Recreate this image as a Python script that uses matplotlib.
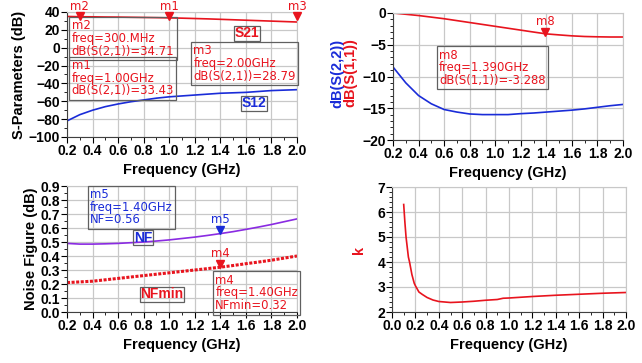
import matplotlib

matplotlib.use("Agg")

import matplotlib.pyplot as plt
import numpy as np
from matplotlib.ticker import MultipleLocator

plt.rcParams["font.family"] = ["Liberation Sans", "DejaVu Sans"]
plt.rcParams["font.weight"] = "bold"
plt.rcParams["axes.labelweight"] = "bold"

# --- data ----------------------------------------------------------------
freq_s = [0.2, 0.3, 0.4, 0.5, 0.6, 0.7, 0.8, 0.9, 1.0, 1.1, 1.2, 1.3, 1.4, 1.5, 1.6, 1.7, 1.8, 1.9, 2.0]
s21_db = [35.0, 34.71, 34.6, 34.4, 34.3, 34.1, 33.9, 33.7, 33.43, 33.1, 32.7, 32.3, 31.8, 31.3, 30.8, 30.3, 29.8, 29.3, 28.79]
s12_db = [-82.0, -75.0, -70.0, -66.0, -63.0, -60.5, -58.5, -56.5, -55.0, -54.0, -53.0, -52.0, -51.0, -50.5, -50.0, -49.0, -48.0, -47.5, -47.0]

s11_db = [0.0, -0.2, -0.4, -0.65, -0.9, -1.2, -1.5, -1.8, -2.1, -2.4, -2.7, -3.0, -3.29, -3.45, -3.6, -3.7, -3.75, -3.78, -3.78]
s22_db = [-8.5, -11.0, -13.0, -14.3, -15.2, -15.6, -15.9, -16.0, -16.0, -16.0, -15.85, -15.75, -15.6, -15.45, -15.3, -15.1, -14.85, -14.6, -14.4]

nf = [0.49, 0.485, 0.485, 0.487, 0.49, 0.495, 0.50, 0.507, 0.515, 0.525, 0.535, 0.547, 0.56, 0.574, 0.59, 0.607, 0.625, 0.645, 0.665]
nf_min = [0.21, 0.215, 0.22, 0.23, 0.24, 0.25, 0.26, 0.27, 0.28, 0.29, 0.30, 0.31, 0.32, 0.332, 0.345, 0.357, 0.37, 0.385, 0.40]

freq_k = [0.1, 0.11, 0.12, 0.14, 0.15, 0.17, 0.19, 0.2, 0.23, 0.26, 0.3, 0.35, 0.4, 0.5, 0.6, 0.7, 0.8, 0.9, 0.95, 1.0, 1.2, 1.4, 1.6, 1.8, 2.0]
k_factor = [6.3, 5.6, 5.0, 4.2, 4.0, 3.5, 3.15, 3.05, 2.8, 2.7, 2.58, 2.48, 2.42, 2.38, 2.4, 2.43, 2.47, 2.5, 2.55, 2.56, 2.62, 2.67, 2.71, 2.75, 2.78]

RED = "#e8141e"
BLUE = "#1a2cd8"
PURPLE = "#8a2be2"
W, H = 642, 363


def make_ax(fig, x0, y0, x1, y1):
    return fig.add_axes([x0 / W, 1 - y1 / H, (x1 - x0) / W, (y1 - y0) / H])


def style_ax(ax, xlim, xstep, ylim, ystep, yminor, xminor, yfmt=None):
    ax.set_xlim(*xlim)
    ax.set_ylim(*ylim)
    ax.xaxis.set_major_locator(MultipleLocator(xstep))
    ax.yaxis.set_major_locator(MultipleLocator(ystep))
    ax.xaxis.set_minor_locator(MultipleLocator(xminor))
    ax.yaxis.set_minor_locator(MultipleLocator(yminor))
    ax.xaxis.set_major_formatter(plt.FuncFormatter(lambda v, p: f"{v:.1f}"))
    if yfmt:
        ax.yaxis.set_major_formatter(plt.FuncFormatter(lambda v, p: yfmt.format(v)))
    ax.grid(True, which="major", color="#c8c8c8", linewidth=0.9)
    ax.set_axisbelow(True)
    for side in ("top", "right"):
        ax.spines[side].set_color("#c8c8c8")
    for side in ("left", "bottom"):
        ax.spines[side].set_color("#404040")
    ax.tick_params(which="major", length=4, width=0.8, labelsize=10, pad=1)
    ax.tick_params(which="minor", length=2.5, width=0.6)
    ax.set_xlabel("Frequency (GHz)", fontsize=10.5, labelpad=4)


def marker_box(ax, x, y, lines, color):
    ax.text(x, y, "\n".join(lines), transform=ax.transAxes, ha="left", va="top",
            fontsize=8.4, fontweight="normal", family="DejaVu Sans", color=color, linespacing=0.98,
            bbox=dict(boxstyle="square,pad=0.2", facecolor="none", edgecolor="#606060", linewidth=0.9))


def tag_label(ax, x, y, text, color):
    ax.text(x, y, text, transform=ax.transAxes, ha="left", va="center",
            fontsize=10, color=color,
            bbox=dict(boxstyle="square,pad=0.05", facecolor="none", edgecolor="#606060", linewidth=0.9))


def tri_marker(ax, x, y, name, color, dy):
    ax.plot([x], [y], marker="v", color=color, markersize=6, clip_on=False, zorder=5)
    ax.annotate(name, (x, y), xytext=(0, dy), textcoords="offset points",
                ha="center", va="bottom", fontsize=8.4, fontweight="normal", family="DejaVu Sans",
                color=color, annotation_clip=False)


fig = plt.figure(figsize=(W / 100, H / 100), dpi=100)

# top-left: S21 / S12
ax1 = make_ax(fig, 67, 12, 297, 137)
ax1.plot(freq_s, s21_db, color=RED, linewidth=1.2)
ax1.plot(freq_s, s12_db, color=BLUE, linewidth=1.2)
style_ax(ax1, (0.2, 2.0), 0.2, (-100, 40), 20, 10, 0.1)
ax1.set_ylabel("S-Parameters (dB)", fontsize=10.5, labelpad=2)
tri_marker(ax1, 0.3, 36.0, "m2", RED, 1.5)
tri_marker(ax1, 1.0, 36.0, "m1", RED, 1.5)
tri_marker(ax1, 2.0, 36.0, "m3", RED, 1.5)
marker_box(ax1, 0.02, 0.94, ["m2", "freq=300.MHz", "dB(S(2,1))=34.71"], RED)
marker_box(ax1, 0.02, 0.625, ["m1", "freq=1.00GHz", "dB(S(2,1))=33.43"], RED)
marker_box(ax1, 0.55, 0.74, ["m3", "freq=2.00GHz", "dB(S(2,1))=28.79"], RED)
tag_label(ax1, 0.73, 0.83, "S21", RED)
tag_label(ax1, 0.76, 0.27, "S12", BLUE)

# top-right: S11 / S22
ax2 = make_ax(fig, 393, 13, 623, 140)
ax2.plot(freq_s, s11_db, color=RED, linewidth=1.2)
ax2.plot(freq_s, s22_db, color=BLUE, linewidth=1.2)
style_ax(ax2, (0.2, 2.0), 0.2, (-20, 0), 5, 1, 0.1)
tri_marker(ax2, 1.39, -3.0, "m8", RED, 3)
marker_box(ax2, 0.2, 0.72, ["m8", "freq=1.390GHz", "dB(S(1,1))=-3.288"], RED)
fig.text(337 / W, 1 - 73 / H, "dB(S(2,2))", rotation=90, ha="center", va="center",
         fontsize=10.5, color=BLUE)
fig.text(350 / W, 1 - 73 / H, "dB(S(1,1))", rotation=90, ha="center", va="center",
         fontsize=10.5, color=RED)

# bottom-left: NF / NFmin
ax3 = make_ax(fig, 67, 186, 297, 312)
ax3.plot(freq_s, nf, color=PURPLE, linewidth=1.2)
ax3.plot(freq_s, nf_min, color=RED, linewidth=2.2, linestyle=(0, (1, 0.5)))
style_ax(ax3, (0.2, 2.0), 0.2, (0.0, 0.9), 0.1, 0.05, 0.1, yfmt="{:.1f}")
ax3.set_ylabel("Noise Figure (dB)", fontsize=10.5, labelpad=2)
tri_marker(ax3, 1.4, 0.585, "m5", BLUE, 3)
tri_marker(ax3, 1.4, 0.345, "m4", RED, 3)
marker_box(ax3, 0.1, 0.985, ["m5", "freq=1.40GHz", "NF=0.56"], BLUE)
marker_box(ax3, 0.645, 0.305, ["m4", "freq=1.40GHz", "NFmin=0.32"], RED)
tag_label(ax3, 0.29, 0.59, "NF", BLUE)
tag_label(ax3, 0.32, 0.14, "NFmin", RED)

# bottom-right: k
ax4 = make_ax(fig, 392, 187, 626, 312)
ax4.plot(freq_k, k_factor, color=RED, linewidth=1.2)
style_ax(ax4, (0.0, 2.0), 0.2, (2, 7), 1, 0.2, 0.1)
ax4.set_ylabel("k", fontsize=10.5, color=RED, rotation=90, labelpad=8)

fig.savefig("out.png", dpi=100)
